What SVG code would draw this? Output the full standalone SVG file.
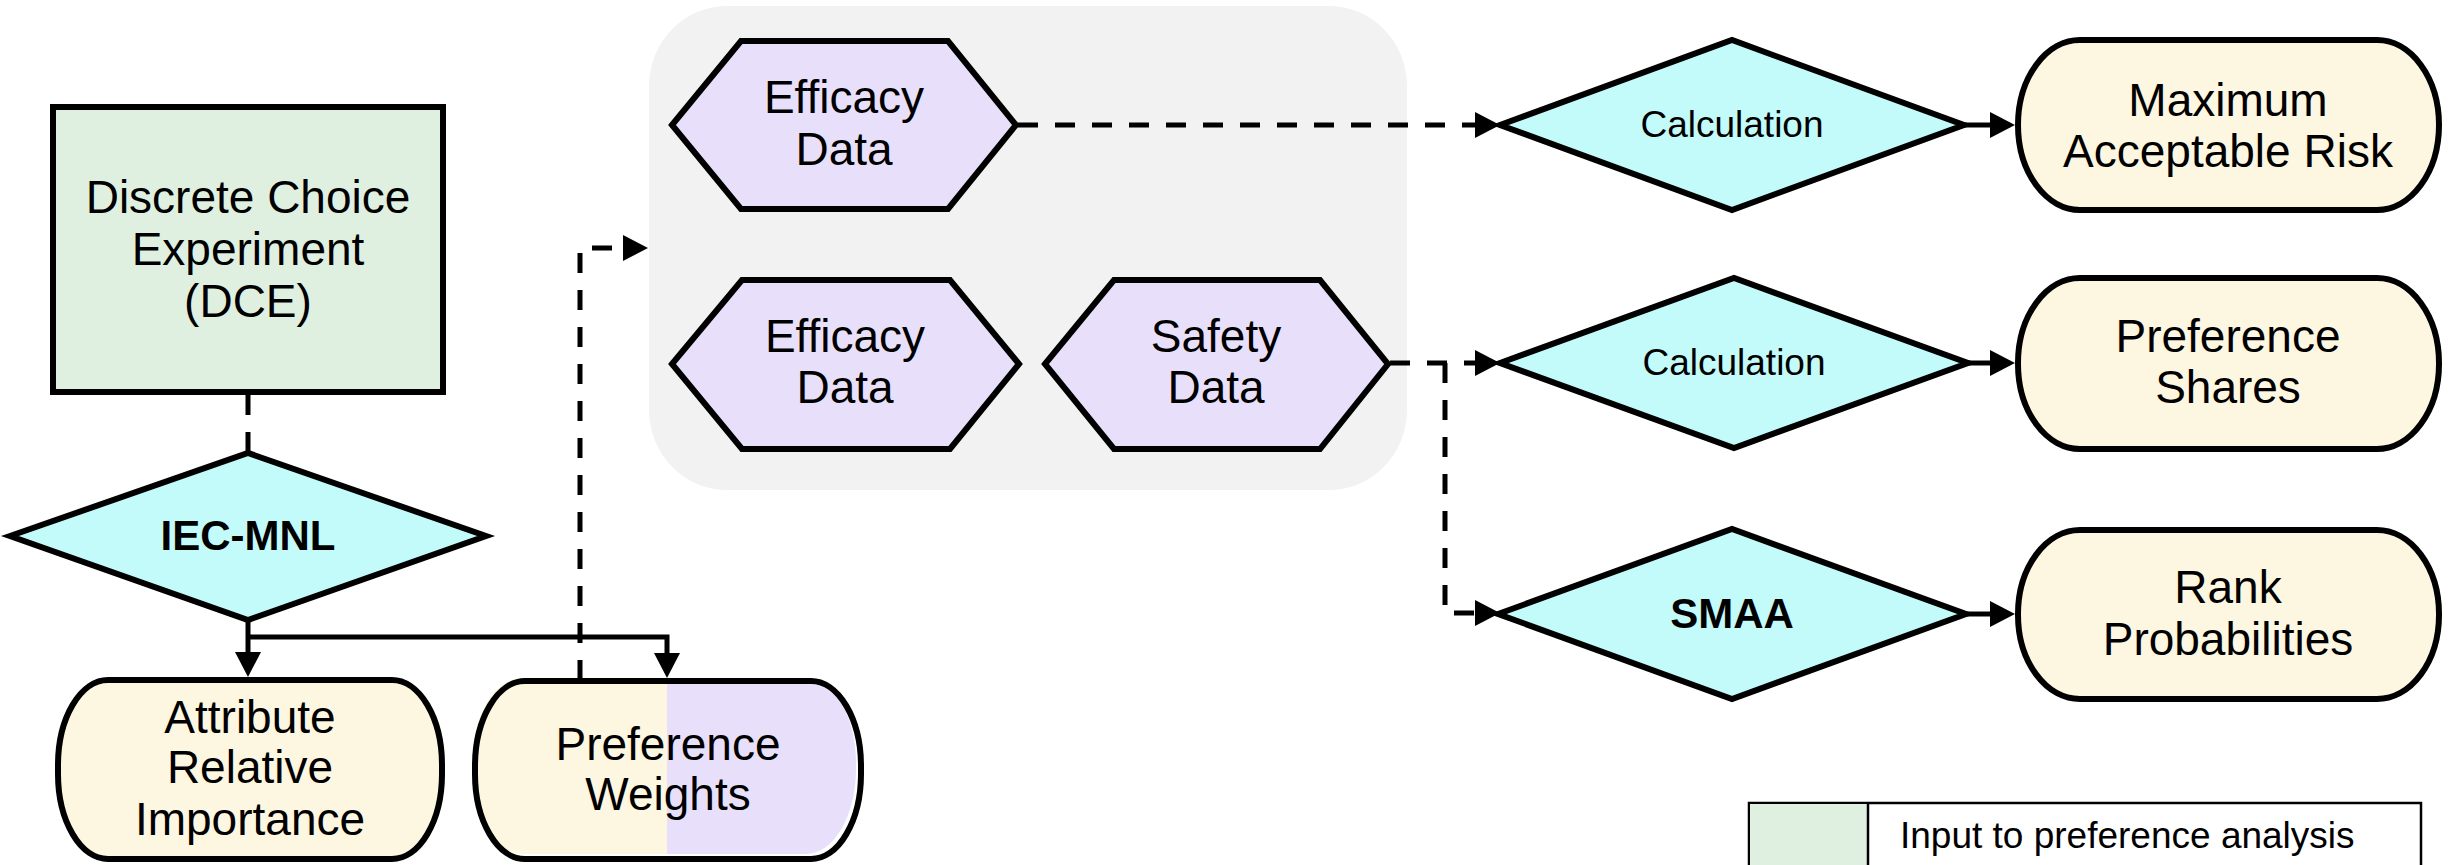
<svg xmlns="http://www.w3.org/2000/svg" width="2458" height="865" viewBox="0 0 2458 865">
<defs>
<style>
.t{font-family:"Liberation Sans",Arial,sans-serif;font-size:46px;fill:#000;text-anchor:middle}
.c{font-size:37px}
.b{font-weight:bold;font-size:42px}
.sh{stroke:#000;stroke-width:6;stroke-linejoin:miter}
.green{fill:#dff0e1}
.cyan{fill:#c3fafa}
.yel{fill:#fdf6e0}
.lav{fill:#e8e0fb}
.ln{fill:none;stroke:#000;stroke-width:5}
.dash{stroke-dasharray:20 17}
</style>
<marker id="arr" markerUnits="userSpaceOnUse" viewBox="0 0 25 26" markerWidth="25" markerHeight="26" refX="0" refY="13" orient="auto">
<path d="M0,0 L25,13 L0,26 z" fill="#000"/>
</marker>
<clipPath id="pwclip"><rect x="472" y="678" width="384" height="176" rx="50" ry="85"/></clipPath>
</defs>

<g id="group-data">
<rect x="649" y="6" width="758" height="484" rx="78" ry="80" fill="#f2f2f2"/>
</g>

<g id="connectors">
<path class="ln dash" d="M248,395 L248,451"/>
<path class="ln" d="M248,620 L248,652" marker-end="url(#arr)"/>
<path class="ln" d="M248,637 L667,637 L667,653" marker-end="url(#arr)"/>
<path class="ln dash" d="M580,680 L580,248 L623,248" marker-end="url(#arr)"/>
<path class="ln dash" d="M1018,125 L1475,125" marker-end="url(#arr)"/>
<path class="ln" d="M1964,125 L1990,125" marker-end="url(#arr)"/>
<path class="ln dash" d="M1390,363 L1475,363" marker-end="url(#arr)"/>
<path class="ln dash" d="M1445,363 L1445,613 L1475,613" marker-end="url(#arr)"/>
<path class="ln" d="M1968,363 L1990,363" marker-end="url(#arr)"/>
<path class="ln" d="M1966,614 L1990,614" marker-end="url(#arr)"/>
</g>

<g id="dce">
<rect class="sh green" x="53" y="107" width="390" height="285"/>
<text class="t" x="248" y="213">Discrete Choice</text>
<text class="t" x="248" y="265">Experiment</text>
<text class="t" x="248" y="317">(DCE)</text>
</g>

<g id="iec-mnl">
<polygon class="sh cyan" points="10,536 248,453 486,536 248,620"/>
<text class="t b" x="248" y="550">IEC-MNL</text>
</g>

<g id="attribute-importance">
<rect class="sh yel" x="58" y="680" width="384" height="179" rx="50" ry="85"/>
<text class="t" x="250" y="733">Attribute</text>
<text class="t" x="250" y="783">Relative</text>
<text class="t" x="250" y="835">Importance</text>
</g>

<g id="preference-weights">
<rect x="475" y="681" width="386" height="178" rx="50" ry="85" fill="#fff"/>
<g clip-path="url(#pwclip)">
<rect class="yel" x="466" y="672" width="201" height="190"/>
<rect class="lav" x="667" y="672" width="200" height="190"/>
</g>
<rect x="475" y="681" width="386" height="178" rx="50" ry="85" fill="none" stroke="#000" stroke-width="6"/>
<text class="t" x="668" y="760">Preference</text>
<text class="t" x="668" y="810">Weights</text>
</g>

<g id="efficacy-data-1">
<polygon class="sh lav" points="672,125 741,41 948,41 1016,125 948,209 741,209"/>
<text class="t" x="844" y="113">Efficacy</text>
<text class="t" x="844" y="165">Data</text>
</g>

<g id="efficacy-data-2">
<polygon class="sh lav" points="672,364 742,280 950,280 1019,364 950,449 742,449"/>
<text class="t" x="845" y="352">Efficacy</text>
<text class="t" x="845" y="403">Data</text>
</g>

<g id="safety-data">
<polygon class="sh lav" points="1045,364 1114,280 1320,280 1388,364 1320,449 1114,449"/>
<text class="t" x="1216" y="352">Safety</text>
<text class="t" x="1216" y="403">Data</text>
</g>

<g id="calculation-1">
<polygon class="sh cyan" points="1500,125 1732,40 1964,125 1732,210"/>
<text class="t c" x="1732" y="137">Calculation</text>
</g>

<g id="calculation-2">
<polygon class="sh cyan" points="1500,363 1734,278 1968,363 1734,448"/>
<text class="t c" x="1734" y="375">Calculation</text>
</g>

<g id="smaa">
<polygon class="sh cyan" points="1498,614 1732,529 1966,614 1732,699"/>
<text class="t b" x="1732" y="628">SMAA</text>
</g>

<g id="max-acceptable-risk">
<rect class="sh yel" x="2018" y="40" width="421" height="170" rx="62" ry="85"/>
<text class="t" x="2228" y="116">Maximum</text>
<text class="t" x="2228" y="167">Acceptable Risk</text>
</g>

<g id="preference-shares">
<rect class="sh yel" x="2018" y="278" width="421" height="171" rx="62" ry="85"/>
<text class="t" x="2228" y="352">Preference</text>
<text class="t" x="2228" y="403">Shares</text>
</g>

<g id="rank-probabilities">
<rect class="sh yel" x="2018" y="530" width="421" height="169" rx="62" ry="84"/>
<text class="t" x="2228" y="603">Rank</text>
<text class="t" x="2228" y="655">Probabilities</text>
</g>

<g id="legend">
<rect x="1749" y="803" width="672" height="80" fill="#fff" stroke="#000" stroke-width="2.5"/>
<rect x="1750" y="804" width="118" height="78" class="green"/>
<line x1="1868" y1="803" x2="1868" y2="883" stroke="#000" stroke-width="2.5"/>
<text class="t" x="1900" y="848" style="text-anchor:start;font-size:37px">Input to preference analysis</text>
</g>
</svg>
